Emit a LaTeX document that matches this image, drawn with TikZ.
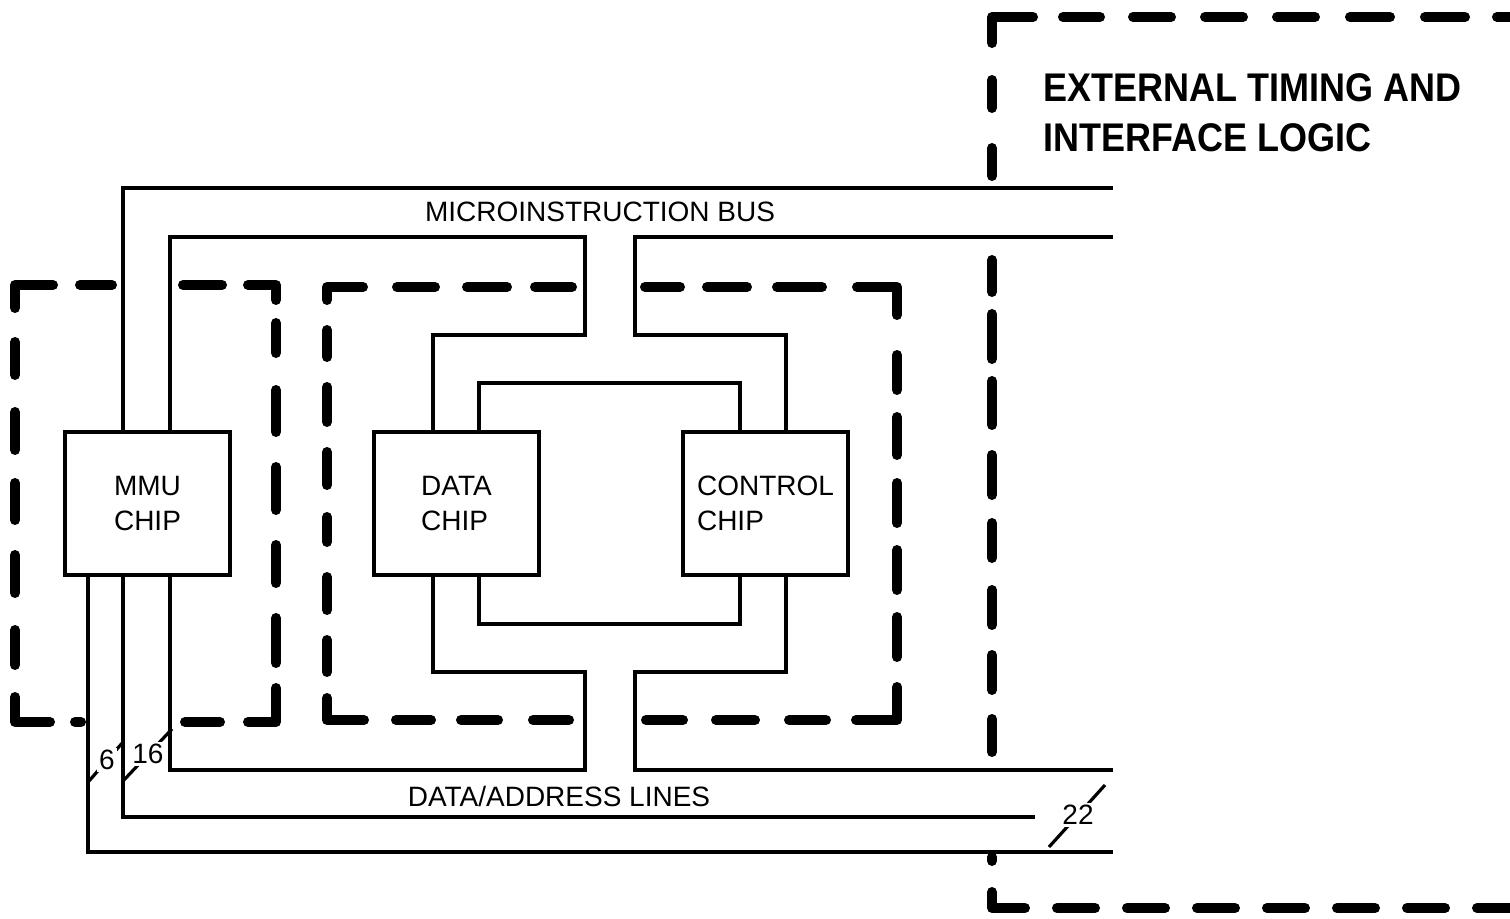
\documentclass[tikz,border=0pt]{standalone}
\usepackage{fontspec}
\setmainfont{Liberation Sans}
\usetikzlibrary{calc}
\begin{document}
\begin{tikzpicture}[x=0.5pt,y=-0.5pt,
  wire/.style={line width=2.4pt, line join=miter},
  chip/.style={draw, line width=2.4pt, minimum width=82.5pt, minimum height=71.5pt,
    inner sep=0pt, align=left, font=\fontsize{14}{17.5}\selectfont},
  dl/.style={line width=5pt, line cap=round, line join=round, shorten <=2.5pt, shorten >=2.5pt},
  lbl/.style={font=\fontsize{14}{17}\selectfont, inner sep=0pt},
  num/.style={font=\fontsize{14}{17}\selectfont, fill=white, inner sep=1pt},
  slash/.style={line width=1.6pt},
  ttl/.style={font=\fontsize{20}{25}\selectfont\bfseries, inner sep=0pt, anchor=base west}]
\useasboundingbox (0,0) rectangle (1510,919);
\clip (0,0) rectangle (1510,919);

% ---------- dashed boundaries ----------
% MMU group
\draw[dl] (15,313) -- (15,285) -- (58,285);
\draw[dl] (243,285) -- (276,285) -- (276,305);
\draw[dl] (15,692) -- (15,722) -- (55,722);
\draw[dl] (243,722) -- (276,722) -- (276,683);
\foreach \a/\b in {75/117,178/227} \draw[dl] (\a,285) -- (\b,285);
\foreach \a/\b in {70/86,180/225} \draw[dl] (\a,722) -- (\b,722);
\foreach \a/\b in {337/380,407/455,478/525,550/598,625/670} \draw[dl] (15,\a) -- (15,\b);
\foreach \a/\b in {318/358,385/437,462/515,540/588,613/668} \draw[dl] (276,\a) -- (276,\b);
% data/control group
\draw[dl] (327,305) -- (327,287) -- (368,287);
\draw[dl] (852,287) -- (897,287) -- (897,320);
\draw[dl] (327,693) -- (327,720) -- (369,720);
\draw[dl] (851,720) -- (897,720) -- (897,682);
\foreach \a/\b in {392/440,462/512,530/577,640/685,702/752,772/827} \draw[dl] (\a,287) -- (\b,287);
\foreach \a/\b in {391/436,456/503,528/574,641/688,711/760,784/831} \draw[dl] (\a,720) -- (\b,720);
\foreach \a/\b in {325/362,382/427,447/490,512/547,572/615,635/677} \draw[dl] (327,\a) -- (327,\b);
\foreach \a/\b in {350/395,412/460,478/528,545/595,612/662} \draw[dl] (897,\a) -- (897,\b);
% external timing and interface logic
\draw[dl] (992,48) -- (992,17) -- (1038,17);
\draw[dl] (992,887) -- (992,908) -- (1030,908);
\foreach \a/\b in {1058/1105,1128/1176,1200/1248,1272/1320,1345/1395,1420/1470,1492/1540} \draw[dl] (\a,17) -- (\b,17);
\foreach \a/\b in {1052/1100,1122/1170,1192/1240,1262/1310,1332/1380,1402/1450,1472/1520} \draw[dl] (\a,908) -- (\b,908);
\foreach \a/\b in {75/113,143/181,255/297,309/364,376/430,450/500,518/563,585/630,650/695,714/757,852/866} \draw[dl] (992,\a) -- (992,\b);

% ---------- chips ----------
\node[chip] (mmu)  at (147.5,503.5) {MMU\\CHIP};
\node[chip] (data) at (456.5,503.5) {DATA\\CHIP};
\node[chip] (ctrl) at (765.5,503.5) {CONTROL\\CHIP};

% ---------- wire coordinates ----------
\coordinate (a1) at (123,188);  \coordinate (e1) at (1113,188);
\coordinate (m2) at (170,237);  \coordinate (b1) at (585,237);
\coordinate (b2) at (585,335);  \coordinate (d1) at (433,335);
\coordinate (e2) at (1113,237); \coordinate (b3) at (635,237);
\coordinate (b4) at (635,335);  \coordinate (k1) at (786,335);
\coordinate (d2) at (479,383);  \coordinate (k2) at (740,383);
\coordinate (d3) at (479,624);  \coordinate (k3) at (740,624);
\coordinate (d4) at (433,672);  \coordinate (b5) at (585,672);
\coordinate (b6) at (585,770);  \coordinate (m3) at (170,770);
\coordinate (k4) at (786,672);  \coordinate (b7) at (635,672);
\coordinate (b8) at (635,770);  \coordinate (e3) at (1113,770);
\coordinate (m4) at (123,817);  \coordinate (e4) at (1035,817);
\coordinate (m5) at (88,852);   \coordinate (e5) at (1113,852);

% ---------- wires ----------
\draw[wire] (mmu.north -| a1) -- (a1) -- (e1);
\draw[wire] (mmu.north -| m2) -- (m2) -- (b1) -- (b2) -- (d1) -- (d1 |- data.north);
\draw[wire] (e2) -- (b3) -- (b4) -- (k1) -- (k1 |- ctrl.north);
\draw[wire] (d2 |- data.north) -- (d2) -- (k2) -- (k2 |- ctrl.north);
\draw[wire] (d3 |- data.south) -- (d3) -- (k3) -- (k3 |- ctrl.south);
\draw[wire] (d4 |- data.south) -- (d4) -- (b5) -- (b6) -- (m3) -- (m3 |- mmu.south);
\draw[wire] (k4 |- ctrl.south) -- (k4) -- (b7) -- (b8) -- (e3);
\draw[wire] (m4 |- mmu.south) -- (m4) -- (e4);
\draw[wire] (m5 |- mmu.south) -- (m5) -- (e5);

% ---------- bus width marks ----------
\coordinate (s1a) at (89,781);   \coordinate (s1b) at (124,741);
\coordinate (s2a) at (124,780);  \coordinate (s2b) at (172,729);
\coordinate (s3a) at (1049,847); \coordinate (s3b) at (1105,785);
\draw[slash] (s1a) -- (s1b);
\draw[slash] (s2a) -- (s2b);
\draw[slash] (s3a) -- (s3b);
\node[num] (n6)  at (107,760) {6};
\node[num] (n16) at (148,754) {16};
\node[num] (n22) at (1078,815) {22};

% ---------- labels ----------
\node[lbl, anchor=base] (mib) at (600,222) {MICROINSTRUCTION BUS};
\node[lbl, anchor=base] (dal) at (559,806) {DATA/ADDRESS LINES};
\node[ttl] (t1) at (1043,102) {\scalebox{0.9}[1]{EXTERNAL TIMING AND}};
\node[ttl] (t2) at (1043,152) {\scalebox{0.9}[1]{INTERFACE LOGIC}};
\end{tikzpicture}
\end{document}
